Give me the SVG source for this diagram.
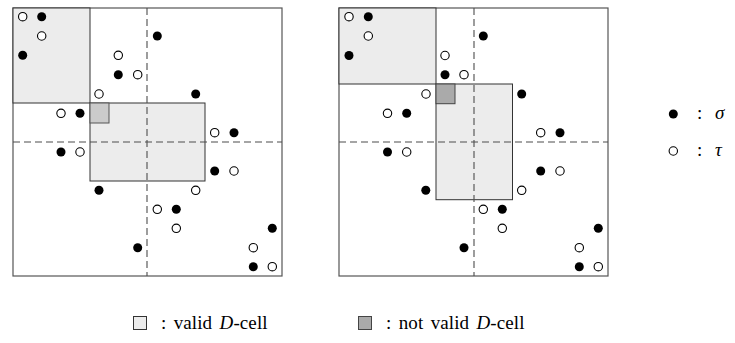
<svg xmlns="http://www.w3.org/2000/svg" width="735" height="343" viewBox="0 0 735 343">
  <style>
    .frame { fill: #ffffff; stroke: #555555; stroke-width: 1.2; }
    .cell { fill: #ececec; stroke: #333333; stroke-width: 1; }
    .mid { fill: #cbcbcb; stroke: #555555; stroke-width: 1; }
    .bad { fill: #aaaaaa; stroke: #444444; stroke-width: 1; }
    .axis { fill: none; stroke: #4d4d4d; stroke-width: 1.1; stroke-dasharray: 7 4; }
    .s { fill: #000000; }
    .t { fill: #ffffff; stroke: #000000; stroke-width: 1.1; }
    .lbl { font-size: 19px; fill: #000000; word-spacing: 2.5px; letter-spacing: 0.1px; }
    .it { font-style: italic; }
  </style>
  <defs>
    <circle id="sig" r="4.5" class="s"/>
    <circle id="tau" r="4.2" class="t"/>
  </defs>

  <!-- left panel: valid cells -->
  <g id="panel-left">
    <rect class="frame" x="13" y="8" width="269" height="268"/>
    <rect class="cell" x="13" y="8" width="77" height="95"/>
    <rect class="cell" x="90" y="103" width="115" height="78"/>
    <rect class="mid" x="90" y="103" width="19" height="20"/>
    <line class="axis" x1="147" y1="8" x2="147" y2="276"/>
    <line class="axis" x1="13" y1="142" x2="282" y2="142"/>
    <g id="points-left">
      <use href="#tau" x="22.7" y="16.7"/>
      <use href="#sig" x="41.7" y="16.7"/>
      <use href="#tau" x="41.7" y="36"/>
      <use href="#sig" x="157.3" y="36"/>
      <use href="#sig" x="22.7" y="55.3"/>
      <use href="#tau" x="118.3" y="55.3"/>
      <use href="#sig" x="118.3" y="74.7"/>
      <use href="#tau" x="137.7" y="74.7"/>
      <use href="#tau" x="99" y="94"/>
      <use href="#sig" x="195.7" y="94"/>
      <use href="#tau" x="61" y="113.3"/>
      <use href="#sig" x="80" y="113.3"/>
      <use href="#tau" x="214.7" y="132.7"/>
      <use href="#sig" x="234" y="132.7"/>
      <use href="#sig" x="61" y="152"/>
      <use href="#tau" x="80" y="152"/>
      <use href="#sig" x="214.7" y="171"/>
      <use href="#tau" x="234" y="171"/>
      <use href="#sig" x="99" y="190.3"/>
      <use href="#tau" x="195.7" y="190.3"/>
      <use href="#tau" x="157.3" y="209.3"/>
      <use href="#sig" x="176.3" y="209.3"/>
      <use href="#tau" x="176.3" y="228.3"/>
      <use href="#sig" x="272.3" y="228.3"/>
      <use href="#sig" x="137.7" y="247.7"/>
      <use href="#tau" x="253.3" y="247.7"/>
      <use href="#sig" x="253.3" y="266.7"/>
      <use href="#tau" x="272.3" y="266.7"/>
    </g>
  </g>

  <!-- right panel: an invalid cell -->
  <g id="panel-right">
    <rect class="frame" x="339" y="8" width="269" height="268"/>
    <rect class="cell" x="339" y="8" width="97" height="76"/>
    <rect class="cell" x="436" y="84" width="76.5" height="115.7"/>
    <rect class="bad" x="436" y="84" width="19" height="19.7"/>
    <line class="axis" x1="474" y1="8" x2="474" y2="276"/>
    <line class="axis" x1="339" y1="142" x2="608" y2="142"/>
    <g id="points-right">
      <use href="#tau" x="349" y="16.7"/>
      <use href="#sig" x="368.3" y="16.7"/>
      <use href="#tau" x="368.3" y="36"/>
      <use href="#sig" x="483.3" y="36"/>
      <use href="#sig" x="349" y="55.5"/>
      <use href="#tau" x="445" y="55.5"/>
      <use href="#sig" x="445" y="74.7"/>
      <use href="#tau" x="464" y="74.7"/>
      <use href="#tau" x="426" y="94"/>
      <use href="#sig" x="521.7" y="94"/>
      <use href="#tau" x="387.5" y="113.3"/>
      <use href="#sig" x="406.7" y="113.3"/>
      <use href="#tau" x="540.7" y="132.7"/>
      <use href="#sig" x="560" y="132.7"/>
      <use href="#sig" x="387.5" y="152"/>
      <use href="#tau" x="406.7" y="152"/>
      <use href="#sig" x="540.7" y="171"/>
      <use href="#tau" x="560" y="171"/>
      <use href="#sig" x="425.8" y="190.3"/>
      <use href="#tau" x="521.7" y="190.3"/>
      <use href="#tau" x="483.3" y="209.3"/>
      <use href="#sig" x="502.3" y="209.3"/>
      <use href="#tau" x="502.3" y="228.3"/>
      <use href="#sig" x="598.3" y="228.3"/>
      <use href="#sig" x="464" y="247.7"/>
      <use href="#tau" x="579.3" y="247.7"/>
      <use href="#sig" x="579.3" y="266.7"/>
      <use href="#tau" x="598.3" y="266.7"/>
    </g>
  </g>

  <!-- point legend -->
  <g id="legend-points" font-family="'Liberation Serif', 'DejaVu Serif', serif">
    <use href="#sig" x="673.3" y="114"/>
    <text class="lbl" x="697" y="119">:</text>
    <text class="lbl it" x="715" y="119" font-size="20">σ</text>
    <use href="#tau" x="673.3" y="151"/>
    <text class="lbl" x="697" y="156">:</text>
    <text class="lbl it" x="715" y="156" font-size="20">τ</text>
  </g>

  <!-- cell legend -->
  <g id="legend-cells" font-family="'Liberation Serif', 'DejaVu Serif', serif">
    <rect class="cell" x="133.5" y="316.5" width="13" height="13" stroke="#666666"/>
    <text class="lbl" x="161" y="329">: valid <tspan class="it">D</tspan>-cell</text>
    <rect class="bad" x="358.5" y="316.5" width="13" height="13"/>
    <text class="lbl" x="386" y="329">: not valid <tspan class="it">D</tspan>-cell</text>
  </g>
</svg>
